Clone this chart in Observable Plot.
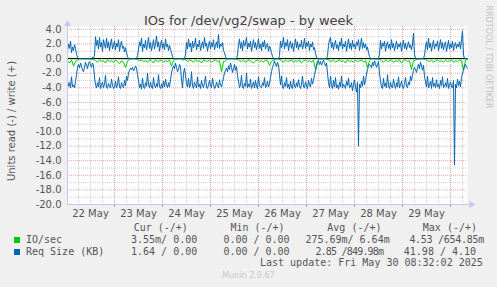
<!DOCTYPE html>
<html><head><meta charset="utf-8">
<script src="https://cdn.jsdelivr.net/npm/d3@7"></script>
<script src="https://cdn.jsdelivr.net/npm/@observablehq/plot@0.6"></script>
<style>
html,body{margin:0;padding:0;background:#f0f0f0;}
#wrap{position:relative;width:497px;height:287px;overflow:hidden;background:#f0f0f0;font-family:"DejaVu Sans";}
.t{position:absolute;white-space:pre;line-height:1;}
#chart{position:absolute;left:0;top:0;}
</style></head><body>
<div id="wrap"><div id="chart"></div></div>
<script>
// ---- data: 22 May 00:30 UTC to 30 May 08:30 ----
const startTime = "2025-05-22T00:30:00Z";
const endTime = "2025-05-30T08:30:00Z";
const dayLabels = ["22 May","23 May","24 May","25 May","26 May","27 May","28 May","29 May"];
const yTickValues = [-20,-18,-16,-14,-12,-10,-8,-6,-4,-2,0,2,4];

// Req Size (KB), write (+), half-hour samples
const reqWrite = [
 1.0,2.0,1.4,2.4,0.8,1.6,1.1,1.9,1.4,0.6,0.2,
 0,0,0,0,0,0,0,0,0,0,0,
 0,0,0,0.2,0,0.5,
 3.0,1.8,2.5,1.3,2.9,1.6,2.2,1.0,2.6,1.9,1.4,2.8,1.5,2.3,1.1,2.0,2.7,1.3,1.8,2.4,1.2,2.1,1.6,2.6,1.0,1.9,2.4,1.4,1.7,0.9,1.5,0.8,0.3,
 0,0,0,0,0,0,0,0,0,0.4,
 1.3,2.3,1.7,2.8,1.0,2.0,1.5,2.5,1.2,1.9,2.9,1.4,2.2,1.1,1.8,2.6,1.3,2.0,3.1,1.6,2.3,1.0,1.9,2.5,1.4,2.1,1.2,2.7,1.6,2.0,1.1,1.8,1.3,0.8,0.3,
 0,0,0,0,0,0,0,0,0,0,0,0,0.6,
 2.2,1.3,2.7,1.6,2.1,0.9,2.4,1.5,1.9,2.8,1.2,2.0,1.6,2.5,1.1,1.8,2.3,1.4,2.9,1.7,2.1,1.0,1.9,2.4,1.3,2.2,1.6,2.6,1.2,1.8,2.3,1.5,3.3,1.4,2.0,1.7,2.2,1.1,0.8,0.3,
 0,0,0,0,0,0,0,0,0,0,0,0.5,
 1.9,2.7,1.4,2.2,1.1,2.5,1.7,2.0,2.9,1.3,2.1,1.6,2.4,1.0,1.8,2.6,1.5,2.2,1.2,1.9,2.7,1.4,2.0,1.1,2.3,1.6,2.5,1.3,1.8,2.1,1.0,1.7,1.4,0.8,0.3,
 0,0,0,0,0,0,0.4,
 2.4,1.5,2.0,2.9,1.3,2.2,1.7,2.6,1.1,1.9,2.4,1.4,2.1,1.0,1.8,2.7,1.5,2.3,1.2,2.0,1.6,2.5,1.3,1.9,2.8,1.4,2.2,1.7,2.4,1.1,2.0,1.6,2.3,1.2,1.5,0.7,0.2,
 0,0,0,0,0,0,0,0,0,0,0.4,
 1.8,2.6,2.9,1.5,2.2,1.2,2.0,2.5,1.4,1.9,1.1,2.3,1.7,2.8,1.3,2.0,1.6,2.4,1.0,1.9,2.7,1.4,2.1,1.2,2.5,1.6,2.0,1.3,2.3,1.8,2.6,1.1,1.9,2.8,1.4,2.2,1.5,2.0,1.2,1.6,0.8,0.3,
 0,0,0,0,0,0,0,0,0,0.6,
 2.5,1.3,2.1,1.7,2.4,1.0,1.9,2.3,1.4,2.0,1.2,2.6,1.5,2.1,1.1,1.8,2.4,1.3,2.0,1.6,2.2,1.0,1.9,2.5,1.4,2.1,1.2,1.8,2.3,1.5,1.9,1.2,2.0,3.5,0.6,
 0,0,0,0,0,0,0,0,0,0.5,
 1.6,2.3,1.2,2.8,1.5,2.1,1.0,1.9,2.5,1.3,2.0,1.7,2.4,1.1,1.8,2.6,1.4,2.2,1.2,1.9,2.3,1.0,1.7,2.5,1.3,2.0,1.5,2.4,1.1,1.9,2.2,1.4,2.0,1.6,2.3,1.3,2.6,3.8,
 0.5,0,0,0,0
];
// Req Size (KB), read (-), magnitudes, half-hour samples
const reqRead = [
 3.0,3.8,3.3,4.0,2.5,3.9,3.6,4.0,3.1,2.2,1.2,
 0.8,1.3,0.6,1.0,1.6,1.8,1.2,0.5,0.9,1.4,0.7,
 0.4,0.9,1.2,0.6,1.0,2.5,
 3.6,4.0,3.3,3.9,2.6,4.1,3.7,3.2,4.0,3.5,2.3,3.9,4.1,3.4,3.8,4.0,2.8,3.6,4.1,3.9,3.1,4.0,3.6,2.5,3.9,4.1,3.3,3.8,4.0,3.0,3.7,2.4,3.0,
 2.0,1.6,1.3,1.5,1.2,1.7,1.4,1.0,1.3,2.2,
 3.0,4.0,3.5,4.2,2.7,3.9,4.1,3.3,3.8,2.0,3.6,4.0,3.2,3.9,4.1,2.6,3.7,4.0,3.4,3.9,2.2,3.8,4.1,3.5,4.0,3.1,3.9,2.8,3.6,4.0,3.3,3.9,2.9,2.0,1.4,
 1.0,1.4,0.6,1.2,1.8,1.5,0.8,1.1,3.0,4.0,2.0,1.3,2.4,
 3.4,3.9,2.7,4.0,3.6,1.8,3.8,4.1,3.2,3.7,4.0,2.5,3.9,3.5,4.1,3.0,3.7,4.0,3.3,2.4,3.9,4.1,3.6,3.0,3.8,4.0,2.7,3.5,4.1,3.9,3.2,3.7,4.0,2.9,3.6,3.9,3.3,2.6,2.0,1.6,
 1.3,1.8,1.0,1.5,0.6,1.2,1.9,1.4,0.8,1.6,1.1,2.3,
 3.1,4.0,3.6,2.3,3.9,4.1,3.4,3.8,2.0,4.0,3.5,3.9,2.8,4.1,3.7,3.2,4.0,3.0,3.8,4.1,2.5,3.6,3.9,4.0,3.3,3.7,2.6,4.0,3.8,3.1,3.9,3.4,2.6,1.8,1.2,
 0.8,0.3,0.7,1.1,0.5,0.9,2.2,
 3.6,2.4,3.9,4.1,3.3,3.8,2.6,4.0,3.5,4.2,3.1,3.9,4.1,2.8,3.8,4.0,3.3,3.9,2.9,3.7,4.1,3.5,2.4,3.9,4.0,3.2,3.8,4.1,3.0,3.6,3.9,2.7,3.5,3.0,2.2,1.6,1.1,
 0.6,0.3,0.8,0.4,0.9,0.5,0.2,0.7,1.0,0.6,2.0,
 3.3,4.0,2.4,3.7,4.1,3.0,3.9,2.6,4.0,3.6,4.2,3.2,3.9,2.4,4.0,3.5,3.8,4.1,3.1,3.7,2.7,4.0,3.9,3.3,4.4,3.6,2.9,3.9,4.6,3.2,12.0,3.5,4.0,3.1,3.8,2.4,3.6,3.0,2.1,1.5,1.0,0.8,
 0.9,1.3,0.5,1.0,0.3,0.7,1.2,0.8,0.4,2.0,
 3.0,3.9,4.1,2.7,3.8,3.4,4.0,2.2,3.7,4.1,3.2,3.9,4.0,2.8,3.6,4.1,3.3,3.9,2.5,4.0,3.7,3.1,3.9,4.1,3.4,2.6,3.8,4.0,3.2,3.6,2.4,3.0,2.2,1.6,1.2,
 1.5,1.9,1.2,0.8,1.4,0.5,1.0,1.6,0.9,2.4,
 3.2,3.9,2.4,4.0,3.6,3.1,4.1,2.6,3.8,3.4,4.0,2.9,3.9,3.5,4.1,3.0,3.7,2.5,4.0,3.8,3.3,3.9,2.7,4.1,3.6,3.2,3.9,4.0,3.0,14.6,3.5,4.0,2.8,3.7,3.1,3.9,2.6,2.0,
 1.6,1.0,0.8,1.2,1.3
];
// IO/sec, read (-), magnitudes, hourly samples
const ioRead = [
 0.3,0.6,0.2,1.0,0.4,0.2, 0.05,0.02,0.05,0.03,0.05, 0.05,0.1,0.1,
 0.3,0.5,0.2,0.4,0.3,0.6,0.2,0.4,0.3,0.5,0.2,0.4,0.7,0.3,0.5,1.2,0.4,
 0.05,0.05,0.02,0.05,0.1,
 0.3,0.2,0.4,0.3,0.5,0.2,0.3,0.6,0.2,0.4,0.3,0.2,0.5,0.3,0.4,0.2,1.0,0.3,
 0.05,0.05,0.02,0.05,0.2,0.1,
 0.4,0.2,0.3,0.5,0.2,0.4,0.3,0.6,0.2,0.3,0.4,0.2,0.5,0.3,0.2,0.4,0.3,1.8,0.4,0.3,
 0.05,0.05,0.02,0.05,0.05,0.1,
 0.3,0.4,0.2,0.5,0.3,0.2,0.4,0.6,0.3,0.2,0.4,0.3,0.5,0.2,0.3,0.9,0.4,0.2,
 0.05,0.02,0.1,
 0.3,0.5,0.2,0.4,0.3,0.2,0.5,0.3,0.4,0.2,0.6,0.3,0.2,0.4,0.3,0.5,0.2,1.5,0.3,
 0.05,0.05,0.02,0.05,0.1,
 0.3,0.4,0.2,0.5,0.3,0.2,0.4,0.3,0.6,0.2,0.4,0.3,0.5,0.2,0.4,0.3,0.2,0.5,0.3,1.2,0.3,
 0.05,0.02,0.05,0.05,0.1,
 0.3,0.5,0.2,0.4,0.3,0.2,0.5,0.3,0.4,0.2,0.6,0.3,0.2,0.4,0.3,1.5,0.3,0.2,
 0.05,0.05,0.02,0.05,0.1,
 0.3,0.4,0.2,0.5,0.3,0.2,0.4,0.3,0.5,0.2,0.4,0.3,0.2,0.5,0.3,0.4,0.2,0.3,1.6,
 0.2,0.1
];
// IO/sec, write (+), hourly samples
const ioWrite = [
 0,0,0,0,0,0,0,0,0,0,0,0,0,0,0,0,0,0,0,0,
 0,0,0,0,0,0,0,0,0,0,0,0,0,0,0,0,0,0,0,0,
 0,0,0,0,0,0,0,0,0,0,0,0,0,0,0,0,0,0,0,0,
 0,0,0,0,0,0,0,0,0,0,0,0,0,0,0,0,0,0,0,0,
 0,0,0,0,0,0,0,0,0,0,0,0,0,0,0,0,0,0,0,0,
 0,0,0,0,0,0,0,0,0,0,0,0,0,0,0,0,0,0,0,0,
 0,0,0,0,0,0,0,0,0,0,0,0,0,0,0,0,0,0,0,0,
 0,0,0,0,0,0,0,0,0,0,0,0,0,0,0,0,0,0,0,0,
 0,0,0,0,0,0,0,0,0,0,0,0,0,0,0,0,0,0,0,0,
 0,0,0,0,0,0,0,0,0,0,0,0,0,0,0,0,0,0,0,0,
 0
];

// legend
const legendHeaders = ["Cur (-/+)","Min (-/+)","Avg (-/+)","Max (-/+)"];
const seriesNames = ["IO/sec","Req Size (KB)"];
const seriesColors = ["#00cc00","#0066b3"];
const statsRow1 = ["3.55m/ 0.00","0.00 / 0.00","275.69m/ 6.64m","4.53 /654.85m"];
const statsRow2 = ["1.64 / 0.00","0.00 / 0.00","2.85 /849.98m","41.98 / 4.10"];
const lastUpdate = "Last update: Fri May 30 08:32:02 2025";

// ---- chart ----
const H = 3600e3;
const T0 = new Date(startTime), T1 = new Date(endTime);
const atHour = i => new Date(+T0 + i * H);
const atHalf = i => new Date(+T0 + i * H / 2);
const noons = dayLabels.map((_, i) => new Date(Date.UTC(2025, 4, 22 + i, 12)));
const midnights = d3.utcDay.range(T0, T1);
const sixHours = d3.utcHour.every(6).range(T0, T1).filter(d => d.getUTCHours() !== 0);
const yMajor = yTickValues.filter(v => v > -20);
const yMinor = yTickValues.filter(v => v < 4).map(v => v + 1);
const grayGrid = "#d2d2d2", redGrid = "#eaa6a6", axisCol = "#c5c9f2";

const chart = Plot.plot({
  width: 497, height: 222,
  marginLeft: 67, marginRight: 30, marginTop: 26, marginBottom: 18,
  x: {type: "utc", domain: [T0, T1]},
  y: {domain: [-20, 4.4]},
  style: {fontFamily: "DejaVu Sans", fontSize: "10px", color: "#555", background: "transparent", overflow: "visible"},
  marks: [
    Plot.frame({fill: "white", stroke: null}),
    Plot.ruleY(yMinor, {stroke: grayGrid, strokeDasharray: "1,1"}),
    Plot.ruleX(sixHours, {stroke: grayGrid, strokeDasharray: "1,1"}),
    Plot.ruleY(yMajor, {stroke: redGrid, strokeDasharray: "1,1"}),
    Plot.ruleX(midnights, {stroke: redGrid, strokeDasharray: "1,1"}),
    Plot.ruleX(midnights, {y1: -20, y2: -20.35, stroke: "#e07070"}),
    Plot.line(ioWrite, {x: (d, i) => atHour(i), y: d => d, stroke: seriesColors[0], strokeWidth: 1}),
    Plot.line(ioRead, {x: (d, i) => atHour(i), y: d => -d, stroke: seriesColors[0], strokeWidth: 1}),
    Plot.ruleY([0], {stroke: "black"}),
    Plot.line(reqRead, {x: (d, i) => atHalf(i), y: d => -d, stroke: seriesColors[1], strokeWidth: 1}),
    Plot.line(reqWrite, {x: (d, i) => atHalf(i), y: d => d, stroke: seriesColors[1], strokeWidth: 1}),
    Plot.ruleX([T0], {y1: -20, y2: 4.7, stroke: axisCol}),
    Plot.ruleY([-20], {x1: T0, x2: new Date(+T1 + 1.5 * H), stroke: axisCol}),
    Plot.dot([T0], {x: d => d, y: () => 4.75, symbol: "triangle", r: 2.6, fill: axisCol, stroke: null}),
    Plot.dot([T1], {x: d => new Date(+d + 2 * H), y: () => -20, symbol: "triangle", r: 2.6, rotate: 90, fill: axisCol, stroke: null}),
    Plot.axisY({ticks: yTickValues, tickFormat: d => d.toFixed(1), tickSize: 0, tickPadding: 6, label: null}),
    Plot.axisX({ticks: noons, tickFormat: d3.utcFormat("%d %b"), tickSize: 0, tickPadding: 5, label: null})
  ]
});
document.getElementById("chart").appendChild(chart);

// ---- texts ----
const wrap = document.getElementById("wrap");
function place(text, x, baseline, o = {}) {
  const fs = o.size || 10;
  const el = document.createElement("div");
  el.className = "t";
  el.textContent = text;
  el.style.fontSize = fs + "px";
  el.style.fontFamily = o.mono ? '"DejaVu Sans Mono"' : '"DejaVu Sans"';
  el.style.color = o.color || "#555";
  el.style.top = (baseline - 0.846 * fs) + "px";
  if (o.spacing) el.style.letterSpacing = o.spacing + "px";
  if (o.anchor === "end") el.style.right = (497 - x) + "px";
  else if (o.anchor === "middle") { el.style.left = x + "px"; el.style.transform = "translateX(-50%)"; }
  else el.style.left = x + "px";
  wrap.appendChild(el);
  return el;
}
function rotated(text, cx, cy, deg, size, color) {
  const el = document.createElement("div");
  el.className = "t";
  el.textContent = text;
  el.style.fontSize = size + "px";
  el.style.fontFamily = '"DejaVu Sans"';
  el.style.color = color;
  el.style.left = cx + "px";
  el.style.top = cy + "px";
  el.style.transform = `translate(-50%,-50%) rotate(${deg}deg)`;
  wrap.appendChild(el);
}
place("IOs for /dev/vg2/swap - by week", 248.5, 24.5, {size: 13, anchor: "middle", color: "#444"});
rotated("Units read (-) / write (+)", 11.5, 121, -90, 10, "#555");
rotated("RRDTOOL / TOBI OETIKER", 487.8, 56.5, 90, 8, "#c0c0c0");

const hx = [133.7, 230.4, 327.3, 422.8];
legendHeaders.forEach((h, i) => place(h, hx[i], 231, {mono: true}));
const rowBase = [243.3, 255];
seriesNames.forEach((n, i) => {
  const sq = document.createElement("div");
  sq.style.cssText = `position:absolute;left:14px;top:${rowBase[i] - 6}px;width:6px;height:6px;background:${seriesColors[i]}`;
  wrap.appendChild(sq);
  place(n, 26, rowBase[i], {mono: true});
});
const row1X = [131, 223.4, 305.4, 409.4], row1Sp = [0, 0, 0, -0.29];
const row2X = [131, 223.4, 315.4, 403.8], row2Sp = [0, 0, -0.8, 0];
statsRow1.forEach((s, i) => place(s, row1X[i], rowBase[0], {mono: true, spacing: row1Sp[i]}));
statsRow2.forEach((s, i) => place(s, row2X[i], rowBase[1], {mono: true, spacing: row2Sp[i]}));
place(lastUpdate, 260, 266.7, {mono: true});
place("Munin 2.0.67", 248.5, 279, {size: 8, anchor: "middle", color: "#c8c8c8"});
</script>
</body></html>
